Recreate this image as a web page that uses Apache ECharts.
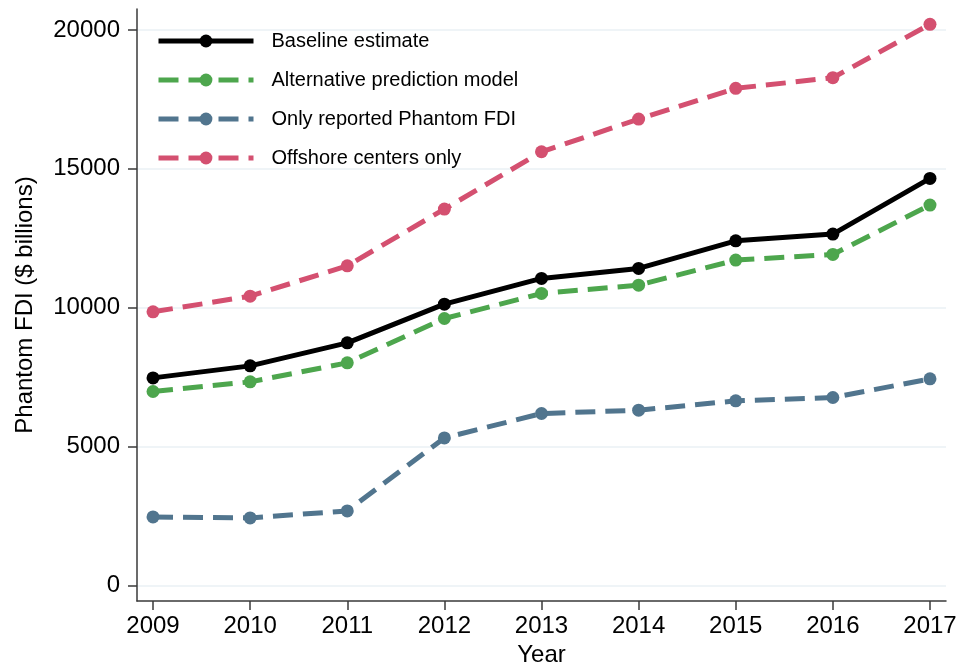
<!DOCTYPE html>
<html>
<head>
<meta charset="utf-8">
<script src="https://cdn.jsdelivr.net/npm/echarts@6/dist/echarts.min.js"></script>
<style>
html,body{margin:0;padding:0;background:#fff;}
#chart{width:958px;height:662px;}
</style>
</head>
<body>
<div id="chart"></div>
<script>
const years = [2009, 2010, 2011, 2012, 2013, 2014, 2015, 2016, 2017];
const yTicks = [0, 5000, 10000, 15000, 20000];
const seriesNames = ['Baseline estimate', 'Alternative prediction model', 'Only reported Phantom FDI', 'Offshore centers only'];
const baseline = [7470, 7903, 8732, 10126, 11052, 11412, 12408, 12649, 14655];
const alternative = [6980, 7327, 8012, 9610, 10511, 10811, 11712, 11917, 13694];
const reportedOnly = [2462, 2426, 2679, 5309, 6187, 6306, 6643, 6763, 7435];
const offshoreOnly = [9850, 10414, 11507, 13550, 15615, 16793, 17899, 18282, 20205];

const colors = ['#000000', '#4DA64D', '#51758E', '#D45070'];
const values = [baseline, alternative, reportedOnly, offshoreOnly];
const dashes = ['solid', [20, 10], [20, 10], [20, 10]];

const font = 'Liberation Sans, Arial, sans-serif';

const chart = echarts.init(document.getElementById('chart'), null, {renderer: 'canvas'});
const series = seriesNames.map((name, i) => ({
  name: name,
  type: 'line',
  data: years.map((y, j) => [y, values[i][j]]),
  symbol: 'circle',
  symbolSize: 13,
  showSymbol: true,
  z: 10 - i,
  itemStyle: {color: colors[i]},
  lineStyle: {color: colors[i], width: 5, type: dashes[i]},
  emphasis: {disabled: true},
  animation: false
}));

chart.setOption({
  backgroundColor: '#ffffff',
  animation: false,
  grid: {left: 137, right: 12, top: 9, bottom: 61, outerBoundsMode: 'none', containLabel: false},
  legend: {
    left: 151,
    top: 26,
    orient: 'vertical',
    itemWidth: 95,
    itemHeight: 16,
    itemGap: 19,
    selectedMode: false,
    textStyle: {fontFamily: font, fontSize: 20, color: '#000', padding: [0, 0, 0, 13]},
    data: seriesNames.map((name, i) => ({
      name: name,
      itemStyle: {color: colors[i]},
      lineStyle: {color: colors[i], width: 5, type: dashes[i]}
    }))
  },
  xAxis: {
    type: 'value',
    min: 2008.835,
    max: 2017.165,
    name: 'Year',
    nameLocation: 'middle',
    nameGap: 38,
    nameTextStyle: {fontFamily: font, fontSize: 24, color: '#000'},
    axisLine: {show: true, onZero: false, lineStyle: {color: '#3a3a3a', width: 1.5}},
    axisTick: {show: true, length: 9, lineStyle: {color: '#3a3a3a', width: 1.5}, customValues: years},
    axisLabel: {fontFamily: font, fontSize: 24, color: '#000', margin: 13, customValues: years, formatter: v => String(v)},
    splitLine: {show: false}
  },
  yAxis: {
    type: 'value',
    min: -566,
    max: 20757,
    name: 'Phantom FDI ($ billions)',
    nameLocation: 'middle',
    nameGap: 100,
    nameTextStyle: {fontFamily: font, fontSize: 24, color: '#000'},
    axisLine: {show: true, onZero: false, lineStyle: {color: '#3a3a3a', width: 1.5}},
    axisTick: {show: true, length: 9, lineStyle: {color: '#3a3a3a', width: 1.5}, customValues: yTicks},
    axisLabel: {fontFamily: font, fontSize: 24, color: '#000', margin: 17, customValues: yTicks, formatter: v => String(v)},
    splitLine: {show: true, lineStyle: {color: '#EAF0F4', width: 1.5}}
  },
  series: series
});
</script>
</body>
</html>
